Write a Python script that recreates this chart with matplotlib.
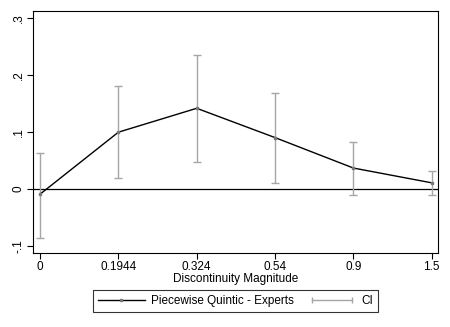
import numpy as np
import matplotlib
matplotlib.use('Agg')
import matplotlib.pyplot as plt
from matplotlib.lines import Line2D
from matplotlib.legend_handler import HandlerLine2D

plt.rcParams['font.family'] = ['Liberation Sans', 'DejaVu Sans']

# data
magnitudes = ['0', '0.1944', '0.324', '0.54', '0.9', '1.5']
estimate = [-0.009, 0.100, 0.142, 0.0905, 0.037, 0.011]
ci_upper = [0.064, 0.181, 0.236, 0.168, 0.0835, 0.031]
ci_lower = [-0.086, 0.019, 0.047, 0.011, -0.010, -0.010]
y_ticks = [-0.1, 0, 0.1, 0.2, 0.3]
y_labels = ['-.1', '0', '.1', '.2', '.3']

fs = 8.5
ci_col = '#a6a6a6'

fig = plt.figure(figsize=(4.5, 3.27), dpi=100)
ax = fig.add_axes([0.0733, 0.2272, 0.9, 0.7392])

x = np.arange(len(magnitudes))
est = np.array(estimate)
up = np.array(ci_upper)
lo = np.array(ci_lower)

ax.axhline(0, color='black', lw=0.9, zorder=1)
ax.errorbar(x, est, yerr=[est - lo, up - est], fmt='none', ecolor=ci_col,
            elinewidth=1.0, capsize=3, capthick=1.0, zorder=2)
ax.plot(x, est, color='black', lw=1.0, marker='s', markersize=1.5,
        markerfacecolor='#777777', markeredgecolor='#777777', zorder=3)

ax.set_xlim(-0.09, 5.08)
ax.set_ylim(-0.1118, 0.313)
ax.set_xticks(x)
ax.set_xticklabels(magnitudes, fontsize=fs)
ax.set_yticks(y_ticks)
ax.set_yticklabels(y_labels, fontsize=fs, rotation=90, va='center')
ax.tick_params(direction='out', length=4, width=0.8, pad=2)
ax.set_xlabel('Discontinuity Magnitude', fontsize=fs, labelpad=0)
for s in ax.spines.values():
    s.set_linewidth(0.8)

h1 = Line2D([], [], color='black', lw=1.0, marker='s', markersize=1.5,
            markerfacecolor='#777777', markeredgecolor='#777777')
h2 = Line2D([], [], color=ci_col, lw=1.0, marker='|', markersize=4)
leg = fig.legend([h1, h2], ['Piecewise Quintic - Experts', 'CI'],
                 loc='center', bbox_to_anchor=(0.523, 0.08), ncol=2,
                 fontsize=fs, handlelength=4, handletextpad=0.5,
                 columnspacing=1.2, fancybox=False, borderpad=0.45,
                 handler_map={h2: HandlerLine2D(numpoints=2)})
leg.get_frame().set_edgecolor('black')
leg.get_frame().set_linewidth(0.8)

fig.savefig('out.png', dpi=100)
